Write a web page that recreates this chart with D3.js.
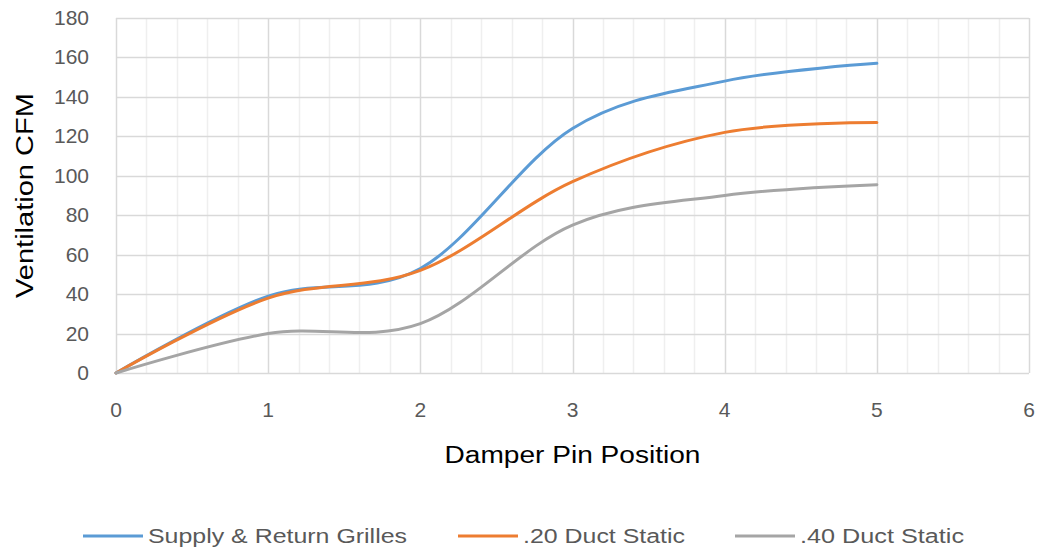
<!DOCTYPE html>
<html>
<head>
<meta charset="utf-8">
<script src="https://cdn.jsdelivr.net/npm/d3@7"></script>
<style>
  body { margin: 0; background: #fff; }
  text { font-family: "Liberation Sans", "DejaVu Sans", sans-serif; fill: #595959; }
</style>
</head>
<body>
<div id="chart"></div>
<script>
    var width = 1039,
        height = 548;

    // damper pin positions and the three measured series
    var pinPositions = [0, 1, 2, 3, 4, 5];
    var supplyReturn = [0, 39, 53, 124, 148, 157];
    var duct20 = [0, 38, 52, 97, 122, 127];
    var duct40 = [0, 20, 25, 75, 90, 95.5];

    var seriesNames = ["Supply & Return Grilles", ".20 Duct Static", ".40 Duct Static"];
    var seriesColors = ["#5B9BD5", "#ED7D31", "#A5A5A5"];
    var xTicks = [0, 1, 2, 3, 4, 5, 6];
    var yTicks = [0, 20, 40, 60, 80, 100, 120, 140, 160, 180];

    // plot area edges (note: "top" is reserved on window)
    var plotLeft = 116, plotRight = 1029, plotTop = 18, plotBottom = 373;

    var svg = d3.select("#chart").append("svg")
        .attr("width", width)
        .attr("height", height);

    var x = d3.scaleLinear().domain([0, 6]).range([plotLeft, plotRight]);
    var y = d3.scaleLinear().domain([0, 180]).range([plotBottom, plotTop]);

    // minor vertical gridlines every 0.2
    var minor = d3.range(0, 6.001, 0.2).filter(function (d) { return Math.abs(d - Math.round(d)) > 0.01; });
    svg.append("g")
        .selectAll("line")
        .data(minor)
        .enter().append("line")
        .attr("x1", function (d) { return Math.round(x(d)) + 0.5; })
        .attr("x2", function (d) { return Math.round(x(d)) + 0.5; })
        .attr("y1", plotTop).attr("y2", plotBottom)
        .attr("stroke", "#efefef").attr("stroke-width", 1.5);

    // major gridlines
    svg.append("g")
        .selectAll("line")
        .data(yTicks)
        .enter().append("line")
        .attr("x1", plotLeft).attr("x2", plotRight)
        .attr("y1", function (d) { return Math.round(y(d)) + 0.5; })
        .attr("y2", function (d) { return Math.round(y(d)) + 0.5; })
        .attr("stroke", "#d9d9d9").attr("stroke-width", 1.5);

    svg.append("g")
        .selectAll("line")
        .data(xTicks)
        .enter().append("line")
        .attr("x1", function (d) { return Math.round(x(d)) + 0.5; })
        .attr("x2", function (d) { return Math.round(x(d)) + 0.5; })
        .attr("y1", plotTop).attr("y2", plotBottom)
        .attr("stroke", "#d9d9d9").attr("stroke-width", 1.5);

    // tick labels
    svg.append("g")
        .selectAll("text")
        .data(yTicks)
        .enter().append("text")
        .attr("x", 89)
        .attr("y", function (d) { return y(d) + 7; })
        .style("text-anchor", "end")
        .style("font-size", "21px")
        .text(function (d) { return d; });

    svg.append("g")
        .selectAll("text")
        .data(xTicks)
        .enter().append("text")
        .attr("x", function (d) { return x(d); })
        .attr("y", 417)
        .style("text-anchor", "middle")
        .style("font-size", "21px")
        .text(function (d) { return d; });

    // axis titles
    svg.append("text")
        .attr("x", (plotLeft + plotRight) / 2)
        .attr("y", 463)
        .attr("textLength", 256)
        .attr("lengthAdjust", "spacingAndGlyphs")
        .style("text-anchor", "middle")
        .style("font-size", "23px")
        .style("fill", "#000")
        .text("Damper Pin Position");

    svg.append("text")
        .attr("transform", "translate(33," + ((plotTop + plotBottom) / 2) + ") rotate(-90)")
        .attr("textLength", 205)
        .attr("lengthAdjust", "spacingAndGlyphs")
        .style("text-anchor", "middle")
        .style("font-size", "23px")
        .style("fill", "#000")
        .text("Ventilation CFM");

    // smoothed lines, Excel style
    var line = d3.line()
        .x(function (d) { return x(d[0]); })
        .y(function (d) { return y(d[1]); })
        .curve(d3.curveCardinal.tension(0));

    [supplyReturn, duct20, duct40].forEach(function (vals, i) {
        var pts = pinPositions.map(function (p, j) { return [p, vals[j]]; });
        svg.append("path")
            .datum(pts)
            .attr("d", line)
            .attr("fill", "none")
            .attr("stroke", seriesColors[i])
            .attr("stroke-width", 3)
            .attr("stroke-linecap", "round");
    });

    // legend
    var legendX = [83, 458, 735];
    var legendTextW = [259, 162, 164];
    var legend = svg.append("g")
        .selectAll("g")
        .data(seriesNames)
        .enter().append("g")
        .attr("transform", function (d, i) { return "translate(" + legendX[i] + ",536)"; });

    legend.append("line")
        .attr("x1", 0).attr("x2", 60)
        .attr("y1", 0).attr("y2", 0)
        .attr("stroke", function (d, i) { return seriesColors[i]; })
        .attr("stroke-width", 3);

    legend.append("text")
        .attr("x", 65)
        .attr("y", 7)
        .attr("textLength", function (d, i) { return legendTextW[i]; })
        .attr("lengthAdjust", "spacingAndGlyphs")
        .style("font-size", "20px")
        .text(function (d) { return d; });
</script>
</body>
</html>
